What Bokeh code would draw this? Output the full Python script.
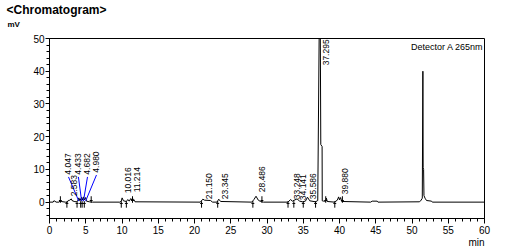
import math
from bokeh.plotting import figure
from bokeh.models import Range1d, SingleIntervalTicker, Label, ColumnDataSource, Title
from bokeh.embed import file_html
from bokeh.resources import INLINE
from bokeh.core.properties import value

# ---- chromatogram trace (retention time in min, signal in mV) ----
rt_min = [0.0, 0.5, 0.6, 0.75, 0.9, 1.3, 1.45, 1.6, 2.2, 2.4, 2.583, 2.8, 3.0, 3.1,
          3.4, 3.7, 3.9, 4.047, 4.2, 4.433, 4.55, 4.682, 4.8, 4.98, 5.1, 5.5,
          5.9, 9.7, 9.9, 10.016, 10.2, 10.6, 10.8, 11.0, 11.214, 11.4, 11.6, 11.8,
          20.8, 21.15, 21.4, 22.2, 22.5, 23.1, 23.345, 23.6, 27.9, 28.2, 28.486,
          28.8, 29.1, 29.5, 32.9, 33.248, 33.5, 34.141, 34.5, 34.9, 35.3, 35.586,
          35.9, 36.7, 37.0, 37.3, 37.42, 37.6, 37.62, 37.8, 38.1, 38.2, 38.3, 39.3,
          39.7, 39.88, 40.0, 40.15, 40.3, 44.3, 44.5, 45.2, 45.3, 51.0, 51.2,
          51.42, 51.5, 51.54, 51.6, 51.65, 51.8, 52.0, 52.7, 52.8, 60.0]
signal_mv = [0.0, 0.0, 0.4, 0.3, 0.0, 0.0, 0.3, 0.2, 0.0, -0.2, 0.5, 0.6, 1.0, 0.5,
             0.2, 0.1, 0.4, 1.3, 0.4, 1.5, 0.6, 1.6, 0.7, 1.4, 0.3, 0.1,
             0.0, 0.0, 0.3, 1.3, 0.4, 0.2, 0.8, 0.3, 1.1, 0.5, 0.9, 0.1,
             0.0, 0.9, 0.6, 0.5, 0.0, 0.0, 0.9, 0.2, 0.0, 0.8, 1.8,
             0.6, 0.2, 0.0, 0.0, 0.8, 0.3, 1.0, 0.3, 0.1, 0.3, 1.5,
             0.4, 0.1, 0.5, 78.0, 17.6, 17.0, 0.4, 0.3, 0.3, 1.2, 0.2, 0.0,
             0.6, 1.6, 0.7, 1.4, 0.2, 0.0, 0.3, 0.3, 0.0, 0.1, 0.4,
             1.2, 40.0, 10.5, 10.0, 2.0, 1.2, 0.5, 0.3, 0.0, 0.0]

# ---- labelled peaks ----
peak_names = ["2.583", "10.016", "11.214", "21.150", "23.345", "28.486",
              "33.248", "34.141", "35.586", "37.295", "39.880"]
peak_rt = [2.583, 10.016, 11.214, 21.150, 23.345, 28.486,
           33.248, 34.141, 35.586, 37.295, 39.880]
label_base = [1.8, 2.7, 3.0, 0.9, 0.9, 3.0, 0.9, 0.6, 0.9, 41.8, 2.4]

# crowded group drawn with leader lines
group_names = ["4.047", "4.433", "4.682", "4.980"]
group_rt = [4.047, 4.433, 4.682, 4.980]
group_label_x = [2.62, 3.99, 5.24, 6.48]
group_label_base = [8.4, 8.4, 8.4, 9.0]

# integration markers
start_marks = [2.4, 3.8, 4.3, 4.5, 4.8, 9.9, 10.6, 20.97, 23.2, 28.05, 32.9,
               33.7, 35.0, 36.7, 39.35]
end_marks = [1.5, 5.75, 11.45, 29.3, 38.1, 40.4]

FONT = "Liberation Sans"

p = figure(width=518, height=249, x_range=Range1d(0, 60), y_range=Range1d(-5, 50),
           output_backend="svg", toolbar_location=None,
           min_border_left=49, min_border_right=34, min_border_top=38,
           min_border_bottom=30)
p.title.visible = False
p.xgrid.visible = False
p.ygrid.visible = False
p.outline_line_color = "black"
p.outline_line_alpha = 1.0
p.background_fill_color = "white"
p.border_fill_color = "white"

p.xaxis.ticker = SingleIntervalTicker(interval=5, num_minor_ticks=5)
p.yaxis.ticker = SingleIntervalTicker(interval=10, num_minor_ticks=5)
for ax in (p.xaxis, p.yaxis):
    ax.axis_line_color = "black"
    ax.major_tick_line_color = "black"
    ax.minor_tick_line_color = "black"
    ax.major_tick_in = 0
    ax.minor_tick_in = 0
    ax.major_label_text_font = FONT
    ax.major_label_text_font_size = "10px"
    ax.major_label_text_color = "black"
p.xaxis.major_tick_out = 5
p.xaxis.minor_tick_out = 3
p.xaxis.major_label_standoff = 2
p.yaxis.major_tick_out = 4
p.yaxis.minor_tick_out = 3
p.yaxis.major_label_standoff = 1

# trace
p.line(rt_min, signal_mv, line_color="black", line_width=1)

# integration markers
p.segment(x0=start_marks, y0=[0.3] * len(start_marks), x1=start_marks,
          y1=[-1.7] * len(start_marks), line_color="black", line_width=1)
p.segment(x0=[t - 0.2 for t in start_marks], y0=[-0.4] * len(start_marks),
          x1=[t + 0.2 for t in start_marks], y1=[-0.4] * len(start_marks),
          line_color="black", line_width=1)
p.segment(x0=end_marks, y0=[-0.2] * len(end_marks), x1=end_marks,
          y1=[1.8] * len(end_marks), line_color="black", line_width=1)
p.segment(x0=[t - 0.2 for t in end_marks], y0=[0.5] * len(end_marks),
          x1=[t + 0.2 for t in end_marks], y1=[0.5] * len(end_marks),
          line_color="black", line_width=1)

# leader lines for crowded group
p.segment(x0=group_label_x, y0=[b - 0.7 for b in group_label_base],
          x1=group_rt, y1=[0.3] * len(group_rt), line_color="#0000ff", line_width=1)

# peak labels
src = ColumnDataSource(dict(x=peak_rt, y=label_base, t=peak_names))
p.text(x="x", y="y", text="t", source=src, angle=math.pi / 2,
       text_align="left", text_baseline="middle", x_offset=6,
       text_font=value(FONT), text_font_size="8.5px", text_color="black")
gsrc = ColumnDataSource(dict(x=group_label_x, y=group_label_base, t=group_names))
p.text(x="x", y="y", text="t", source=gsrc, angle=math.pi / 2,
       text_align="left", text_baseline="middle",
       text_font=value(FONT), text_font_size="8.5px", text_color="black")

# texts around the plot (stacked outward from the frame: spacer, mV, title)
p.add_layout(Title(text=" ", align="left", standoff=1, text_font=FONT,
                   text_font_size="4px", text_color="white"), "above")
p.add_layout(Title(text="mV", align="left", offset=-42, standoff=3,
                   text_font=FONT, text_font_size="8px", text_font_style="bold",
                   text_color="black"), "above")
p.add_layout(Title(text="<Chromatogram>", align="left", offset=-43, standoff=0,
                   text_font=FONT, text_font_size="12px", text_font_style="bold",
                   text_color="black"), "above")
p.add_layout(Label(x=60, y=50, x_offset=-1, y_offset=-8, text="Detector A 265nm",
                   text_font=FONT, text_font_size="9px", text_align="right",
                   text_baseline="alphabetic", text_color="black"))
p.add_layout(Title(text="min", align="right", standoff=0, vertical_align="top",
                   text_font=FONT, text_font_size="10px", text_font_style="normal",
                   text_color="black"), "below")

open("out.html", "w").write(file_html(p, INLINE))
